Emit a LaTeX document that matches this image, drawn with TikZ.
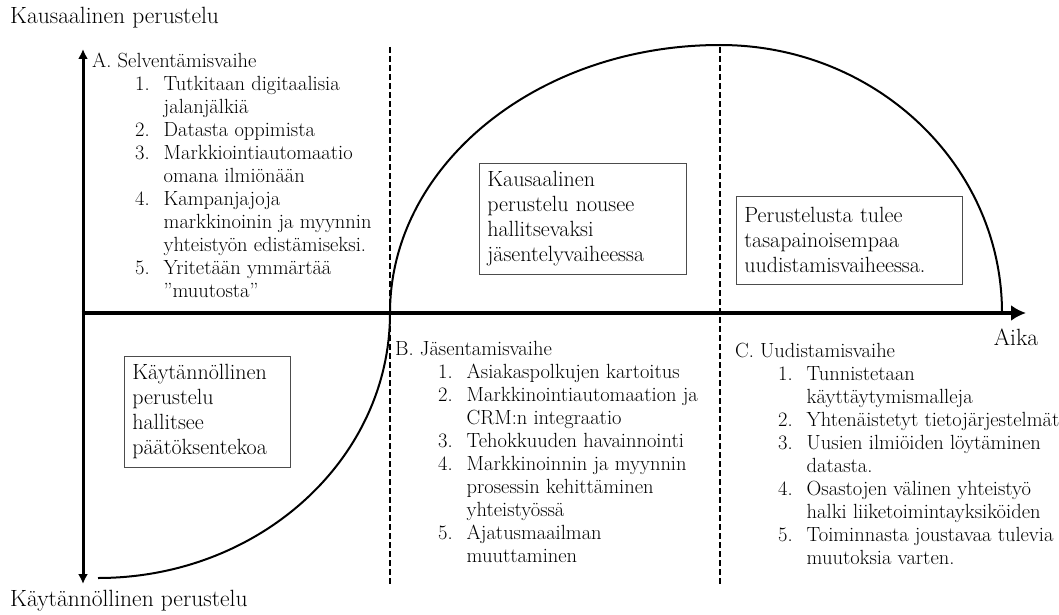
\documentclass[tikz,border=0pt]{standalone}
\usetikzlibrary{positioning,arrows.meta,calc}
\tikzset{
    phase/.style = {
        anchor=north west,
        inner sep=0pt,
        font=\fontsize{20.5}{23}\selectfont
    },
    remark/.style = {
        draw=black!70,
        line width=0.8pt,
        align=left,
        anchor=north west,
        inner xsep=8pt,
        inner ysep=5pt,
        font=\fontsize{22}{25}\selectfont
    },
    label/.style = {
        inner sep=0pt,
        font=\fontsize{23.5}{26}\selectfont
    },
    vaxis/.style = {
        line width=3pt,
        -{Latex[length=10pt,width=10pt]}
    },
    haxis/.style = {
        line width=4.5pt,
        -{Latex[length=15pt,width=16pt]}
    },
    border/.style = {
        line width=1.6pt,
        dash pattern=on 6pt off 3pt
    },
    curve/.style = {
        line width=2pt
    },
}
\newcommand{\phaselist}[2]{%
    \begin{tabular}{@{}p{43pt}@{}l@{\hspace{14pt}}l@{}}
        \multicolumn{3}{@{}l@{}}{#1}\\
        #2
    \end{tabular}}

\begin{document}
\begin{tikzpicture}[x=1pt,y=-1pt]
    \useasboundingbox (0,0) rectangle (1059,615);

    % axes
    \coordinate (origin) at (83,313);
    \coordinate (top) at (83,49);
    \coordinate (bottom) at (83,584);
    \coordinate (time) at (1026,313);
    \draw[vaxis] (origin) -- (top);
    \draw[vaxis] (origin) -- (bottom);
    \draw[haxis] ($(origin)+(-1.5,0)$) -- (time);

    \node[label, anchor=west] (causal) at (10,18) {Kausaalinen perustelu};
    \node[label, anchor=west] (practical) at (10,601) {Käytännöllinen perustelu};
    \node[label] (aika) at (1016,337) {Aika};

    % phase borders
    \draw[border] (390,47) -- (390,584);
    \draw[border] (720,47) -- (720,584);

    % curve
    \draw[curve] (98,578) arc[start angle=90, end angle=0, x radius=292, y radius=265]
        arc[start angle=180, end angle=270, x radius=330, y radius=268]
        arc[start angle=270, end angle=360, x radius=282, y radius=268];

    % boxes
    \node[remark, text width=191pt, minimum height=111pt] (dominant) at (479,163)
        {Kausaalinen\\perustelu nousee\\hallitsevaksi\\jäsentelyvaiheessa};
    \node[remark, text width=210pt, minimum height=88pt] (balance) at (736,196)
        {Perustelusta tulee\\tasapainoisempaa\\uudistamisvaiheessa.};
    \node[remark, text width=150pt, minimum height=111pt] (ruling) at (124,356)
        {Käytännöllinen\\perustelu\\hallitsee\\päätöksentekoa};

    % phases
    \node[phase] (clarify) at (92,51) {\phaselist{A. Selventämisvaihe}{%
        & 1. & Tutkitaan digitaalisia\\
        &    & jalanjälkiä\\
        & 2. & Datasta oppimista\\
        & 3. & Markkiointiautomaatio\\
        &    & omana ilmiönään\\
        & 4. & Kampanjajoja\\
        &    & markkinoinin ja myynnin\\
        &    & yhteistyön edistämiseksi.\\
        & 5. & Yritetään ymmärtää\\
        &    & ”muutosta”\\}};
    \node[phase] (structure) at (395,339) {\phaselist{B. Jäsentamisvaihe}{%
        & 1. & Asiakaspolkujen kartoitus\\
        & 2. & Markkinointiautomaation ja\\
        &    & CRM:n integraatio\\
        & 3. & Tehokkuuden havainnointi\\
        & 4. & Markkinoinnin ja myynnin\\
        &    & prosessin kehittäminen\\
        &    & yhteistyössä\\
        & 5. & Ajatusmaailman\\
        &    & muuttaminen\\}};
    \node[phase] (renewal) at (735,341) {\phaselist{C. Uudistamisvaihe}{%
        & 1. & Tunnistetaan\\
        &    & käyttäytymismalleja\\
        & 2. & Yhtenäistetyt tietojärjestelmät\\
        & 3. & Uusien ilmiöiden löytäminen\\
        &    & datasta.\\
        & 4. & Osastojen välinen yhteistyö\\
        &    & halki liiketoimintayksiköiden\\
        & 5. & Toiminnasta joustavaa tulevia\\
        &    & muutoksia varten.\\}};
\end{tikzpicture}
\end{document}
